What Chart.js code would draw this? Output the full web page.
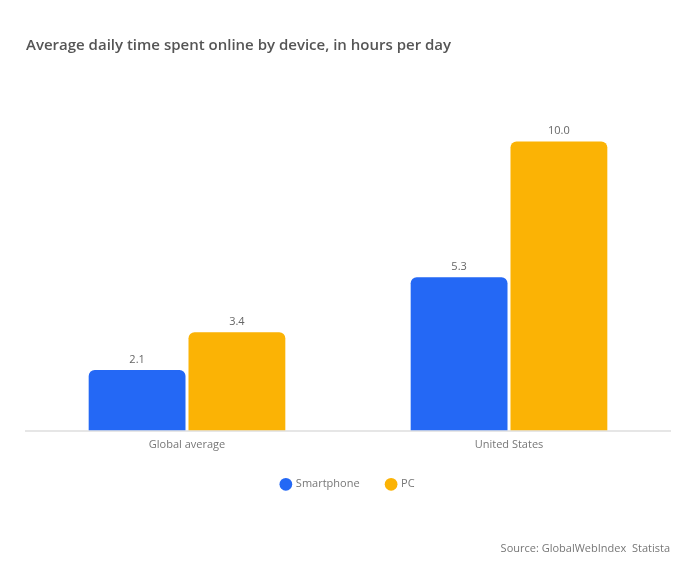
<!DOCTYPE html>
<html>
<head>
<meta charset="utf-8">
<script src="https://cdn.jsdelivr.net/npm/chart.js@4/dist/chart.umd.min.js"></script>
<style>
  html, body { margin: 0; padding: 0; background: #ffffff; }
  #wrap { width: 700px; height: 571px; position: relative; }
</style>
</head>
<body>
<div id="wrap"><canvas id="c" width="700" height="571"></canvas></div>
<script>
const chartTitle = "Average daily time spent online by device, in hours per day";
const categories = ["Global average", "United States"];
const seriesNames = ["Smartphone", "PC"];
const smartphoneValues = [2.1, 5.3];
const pcValues = [3.4, 10.0];
const sourceText = "Source: GlobalWebIndex  Statista";

const valueLabels = {
  id: 'valueLabels',
  afterDatasetsDraw(chart) {
    const ctx = chart.ctx;
    ctx.save();
    ctx.font = '11px "Open Sans", sans-serif';
    ctx.fillStyle = '#666666';
    ctx.textAlign = 'center';
    ctx.textBaseline = 'bottom';
    chart.data.datasets.forEach((ds, i) => {
      const meta = chart.getDatasetMeta(i);
      meta.data.forEach((bar, j) => {
        ctx.fillText(ds.data[j].toFixed(1), bar.x, bar.y - 5);
      });
    });
    ctx.restore();
  }
};

new Chart(document.getElementById('c'), {
  type: 'bar',
  data: {
    labels: categories,
    datasets: [
      { label: seriesNames[0], data: smartphoneValues, backgroundColor: '#2468F5', borderRadius: 6, borderSkipped: 'bottom',
        barPercentage: 0.97, categoryPercentage: 0.62 },
      { label: seriesNames[1], data: pcValues, backgroundColor: '#FBB305', borderRadius: 6, borderSkipped: 'bottom',
        barPercentage: 0.97, categoryPercentage: 0.62 }
    ]
  },
  options: {
    responsive: false,
    animation: false,
    layout: { padding: { left: 26, right: 30, bottom: 6 } },
    scales: {
      x: {
        grid: { display: false },
        border: { display: true, color: '#e6e6e6', width: 2 },
        ticks: { color: '#777777', font: { size: 11, family: '"Open Sans", sans-serif' }, padding: 0 }
      },
      y: {
        display: false,
        min: 0,
        max: 11.4
      }
    },
    plugins: {
      title: {
        display: true,
        text: chartTitle,
        align: 'start',
        color: '#555555',
        font: { size: 15, weight: '600', family: '"Open Sans", sans-serif' },
        padding: { top: 37, bottom: 46 }
      },
      legend: {
        display: true,
        position: 'bottom',
        labels: {
          usePointStyle: true,
          pointStyle: 'circle',
          boxWidth: 9, boxHeight: 9,
          color: '#777777',
          font: { size: 11, family: '"Open Sans", sans-serif' },
          padding: 27
        }
      },
      subtitle: {
        display: true,
        text: sourceText,
        position: 'bottom',
        align: 'end',
        color: '#777777',
        font: { size: 11, family: '"Open Sans", sans-serif' },
        padding: { top: 42, bottom: 10 }
      },
      tooltip: { enabled: false }
    }
  },
  plugins: [valueLabels]
});
</script>
</body>
</html>
